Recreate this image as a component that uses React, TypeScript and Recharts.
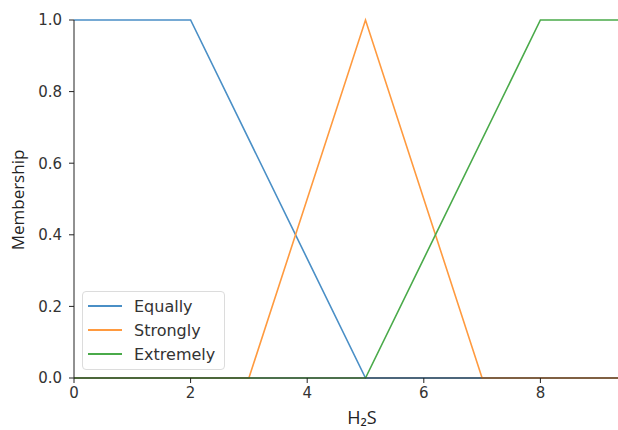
import { Label, Legend, Line, LineChart, XAxis, YAxis } from "recharts";

// membership functions of H2S (breakpoints)
const equallyX = [0, 2, 5, 10];
const equallyY = [1, 1, 0, 0];
const stronglyX = [0, 3, 5, 7, 10];
const stronglyY = [0, 0, 1, 0, 0];
const extremelyX = [0, 5, 8, 10];
const extremelyY = [0, 0, 1, 1];

const xTicks = [0, 2, 4, 6, 8];
const yTicks = [0, 0.2, 0.4, 0.6, 0.8, 1.0];

const seriesNames = ["Equally", "Strongly", "Extremely"];
const seriesColors = ["#4a8fc6", "#ff9a3f", "#4aaa4a"];

const zip = (xs: number[], ys: number[]) => xs.map((x, i) => ({ x, y: ys[i] }));

const series = [
  zip(equallyX, equallyY),
  zip(stronglyX, stronglyY),
  zip(extremelyX, extremelyY),
];

const tickFont = { fontFamily: "DejaVu Sans", fontSize: 15, fill: "#333" };

function LegendBox() {
  return (
    <div
      style={{
        boxSizing: "border-box",
        width: 143,
        height: 79,
        border: "1px solid #dcdcdc",
        borderRadius: 4,
        background: "rgba(255,255,255,0.85)",
        padding: "2px 0 0 5px",
        fontFamily: "DejaVu Sans",
        fontSize: 16,
        color: "#333",
      }}
    >
      {seriesNames.map((name, i) => (
        <div key={name} style={{ display: "flex", alignItems: "center", height: 24 }}>
          <span
            style={{
              display: "inline-block",
              width: 34,
              height: 2,
              background: seriesColors[i],
              marginRight: 12,
            }}
          />
          {name}
        </div>
      ))}
    </div>
  );
}

export default function App() {
  return (
    <div style={{ position: "absolute", left: 0, top: 0, width: 618, height: 430, overflow: "hidden", background: "#fff" }}>
      <LineChart width={668} height={430} margin={{ top: 20, right: 11, bottom: 0, left: 0 }}>
        <XAxis
          dataKey="x"
          type="number"
          domain={[0, 10]}
          ticks={xTicks}
          tick={tickFont}
          tickSize={5}
          tickMargin={4}
          stroke="#222"
          height={52}
          allowDataOverflow
        >
          <Label
            content={() => (
              <text x={362} y={424} textAnchor="middle" fontFamily="Open Sans" fontSize={18} fill="#222">
                H₂S
              </text>
            )}
          />
        </XAxis>
        <YAxis
          type="number"
          domain={[0, 1]}
          ticks={yTicks}
          tickFormatter={(v: number) => v.toFixed(1)}
          tick={tickFont}
          tickSize={5}
          tickMargin={7}
          stroke="#222"
          width={74}
        >
          <Label
            content={() => (
              <text
                x={24}
                y={200}
                transform="rotate(-90 24 200)"
                textAnchor="middle"
                fontFamily="Open Sans"
                fontSize={17}
                fill="#222"
              >
                Membership
              </text>
            )}
          />
        </YAxis>
        <Legend
          layout="vertical"
          align="center"
          verticalAlign="middle"
          wrapperStyle={{ left: 82, top: 291, width: "auto" }}
          content={() => <LegendBox />}
        />
        {series.map((d, i) => (
          <Line
            key={seriesNames[i]}
            data={d}
            dataKey="y"
            name={seriesNames[i]}
            type="linear"
            stroke={seriesColors[i]}
            strokeWidth={1.6}
            dot={false}
            activeDot={false}
            isAnimationActive={false}
          />
        ))}
      </LineChart>
    </div>
  );
}
